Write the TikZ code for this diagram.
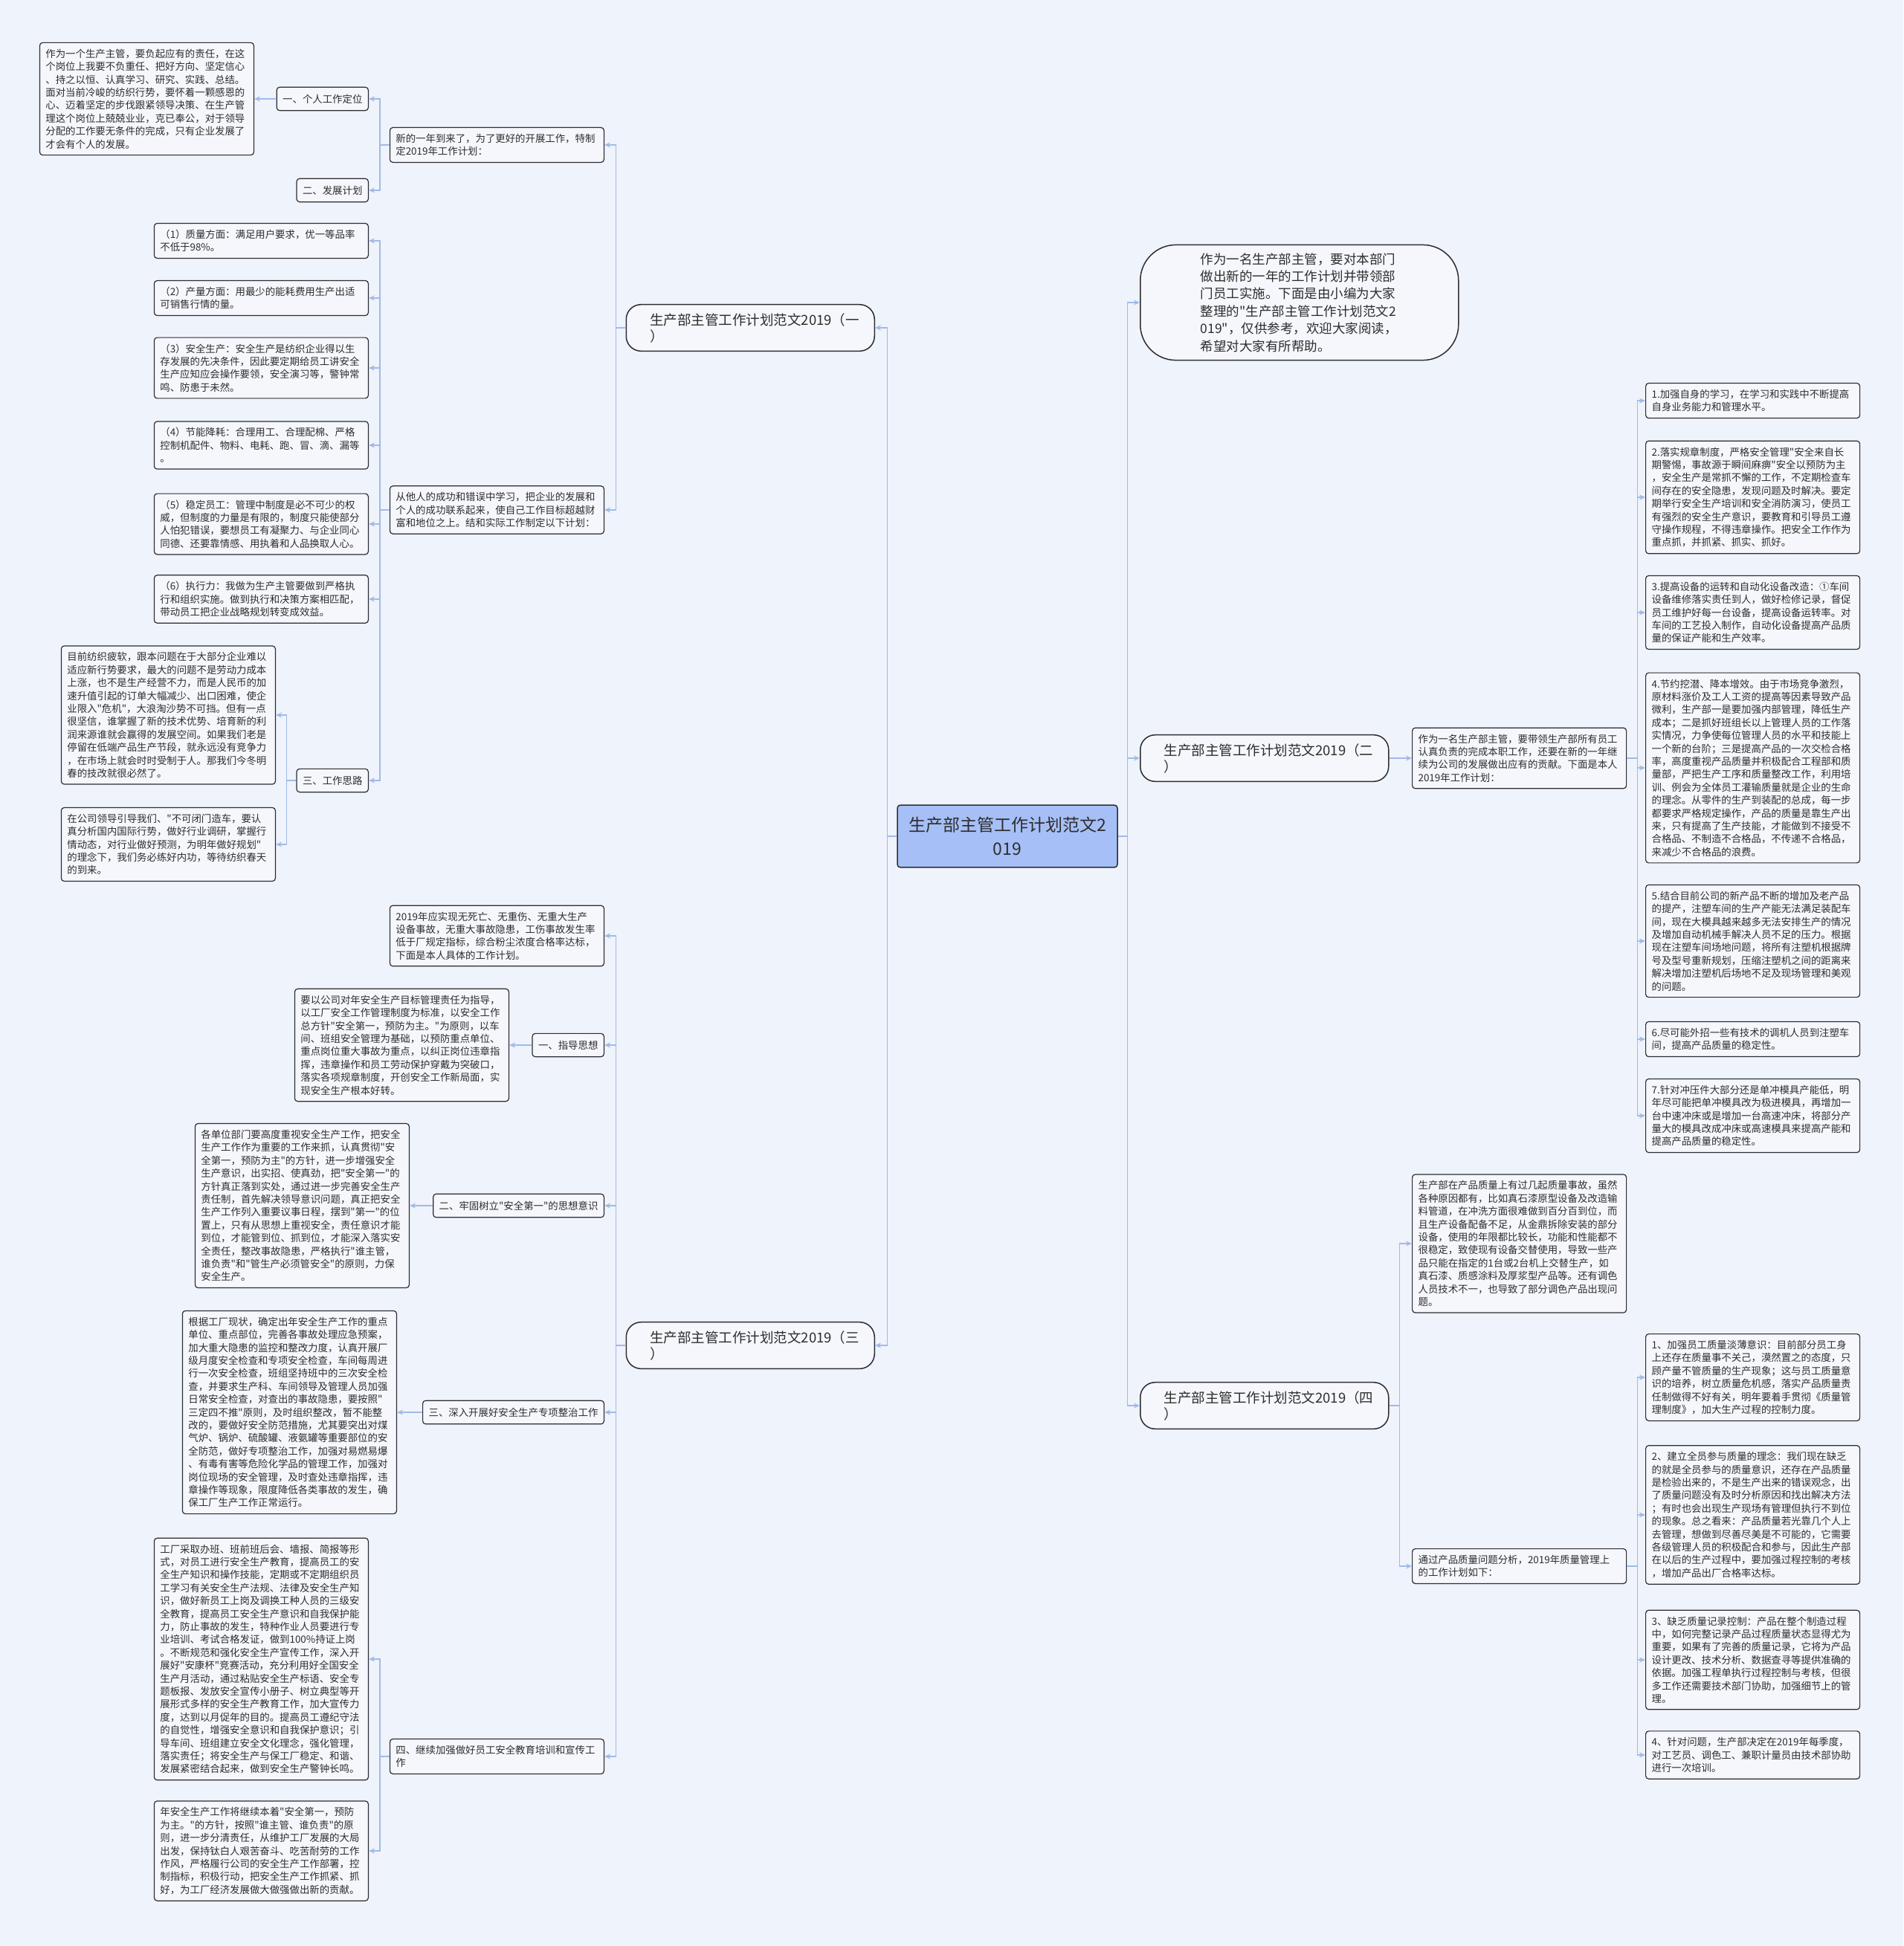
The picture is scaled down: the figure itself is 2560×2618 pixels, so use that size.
\documentclass[tikz,border=0pt]{standalone}
\usepackage{fontspec}
\newfontfamily\cjk{Noto Sans CJK SC}
\usetikzlibrary{arrows.meta}

\definecolor{bgblue}{RGB}{239,243,251}
\definecolor{boxfill}{RGB}{245,247,252}
\definecolor{boxline}{RGB}{45,45,50}
\definecolor{rootblue}{RGB}{166,191,246}
\definecolor{linkblue}{RGB}{160,186,232}
\definecolor{txtgray}{RGB}{45,45,45}

\tikzset{
  para/.style={draw=boxline, fill=boxfill, rounded corners=4pt, line width=1.2pt,
    text=txtgray, text width=272pt, align=left, inner xsep=8pt, inner ysep=8.5pt,
    font=\cjk\fontsize{13.4}{17.4}\selectfont},
  tag/.style={draw=boxline, fill=boxfill, rounded corners=4pt, line width=1.2pt,
    text=txtgray, inner xsep=8pt, inner ysep=9.5pt,
    font=\cjk\fontsize{13.4}{17.4}\selectfont},
  sect/.style={draw=boxline, fill=boxfill, rounded corners=20pt, line width=1.5pt,
    text=txtgray, text width=270pt, align=left, inner xsep=32pt, inner ysep=11.5pt,
    font=\cjk\fontsize{18.5}{22}\selectfont},
  intro/.style={draw=boxline, fill=boxfill, rounded corners=48pt, line width=1.5pt,
    text=txtgray, text width=266pt, align=left, inner xsep=81pt, inner ysep=11pt,
    font=\cjk\fontsize{17.5}{23.4}\selectfont},
  root/.style={draw=boxline, fill=rootblue, rounded corners=4pt, line width=1.5pt,
    text=txtgray, text width=268pt, align=center, inner xsep=14pt, inner ysep=16pt,
    font=\cjk\fontsize{23}{32}\selectfont},
  link/.style={draw=linkblue, line width=1.4pt, -{Stealth[length=8pt,width=7pt]}}
}

\begin{document}
\begin{tikzpicture}[x=1pt,y=-1pt]
  \fill[bgblue] (0,0) rectangle (2560,2618);
  \useasboundingbox (0,0) rectangle (2560,2618);

  % centre and the four plans
  \node[root] (root) at (1355,1125) {生产部主管工作计划范文2\\019};
  \node[sect, anchor=east] (s1) at (1177,441) {生产部主管工作计划范文2019（一\\）};
  \node[sect, anchor=east] (s3) at (1177,1810) {生产部主管工作计划范文2019（三\\）};
  \node[intro, anchor=west] (intro) at (1533,407) {作为一名生产部主管，要对本部门\\
    做出新的一年的工作计划并带领部\\
    门员工实施。下面是由小编为大家\\
    整理的"生产部主管工作计划范文2\\
    019"，仅供参考，欢迎大家阅读，\\
    希望对大家有所帮助。};
  \node[sect, anchor=west] (s2) at (1533,1020) {生产部主管工作计划范文2019（二\\）};
  \node[sect, anchor=west] (s4) at (1533,1891) {生产部主管工作计划范文2019（四\\）};

  % plan one
  \node[para, anchor=east] (xinnian) at (813,195) {新的一年到来了，为了更好的开展工作，特制\\
    定2019年工作计划：};
  \node[para, anchor=east] (congta) at (813,686) {从他人的成功和错误中学习，把企业的发展和\\
    个人的成功联系起来，使自己工作目标超越财\\
    富和地位之上。结和实际工作制定以下计划：};
  \node[tag, anchor=east] (dingwei) at (496,133) {一、个人工作定位};
  \node[tag, anchor=east] (fazhan) at (496,256) {二、发展计划};
  \node[para, anchor=east] (geren) at (342,133) {作为一个生产主管，要负起应有的责任，在这\\
    个岗位上我要不负重任、把好方向、坚定信心\\
    、持之以恒、认真学习、研究、实践、总结。\\
    面对当前冷峻的纺织行势，要怀着一颗感恩的\\
    心、迈着坚定的步伐跟紧领导决策、在生产管\\
    理这个岗位上兢兢业业，克已奉公，对于领导\\
    分配的工作要无条件的完成，只有企业发展了\\
    才会有个人的发展。};
  \node[para, anchor=east] (q1) at (496,324) {（1）质量方面：满足用户要求，优一等品率\\
    不低于98\%。};
  \node[para, anchor=east] (q2) at (496,401) {（2）产量方面：用最少的能耗费用生产出适\\
    可销售行情的量。};
  \node[para, anchor=east] (q3) at (496,495) {（3）安全生产：安全生产是纺织企业得以生\\
    存发展的先决条件，因此要定期给员工讲安全\\
    生产应知应会操作要领，安全演习等，警钟常\\
    鸣、防患于未然。};
  \node[para, anchor=east] (q4) at (496,599) {（4）节能降耗：合理用工、合理配棉、严格\\
    控制机配件、物料、电耗、跑、冒、滴、漏等\\
    。};
  \node[para, anchor=east] (q5) at (496,705) {（5）稳定员工：管理中制度是必不可少的权\\
    威，但制度的力量是有限的，制度只能使部分\\
    人怕犯错误，要想员工有凝聚力、与企业同心\\
    同德、还要靠情感、用执着和人品换取人心。};
  \node[para, anchor=east] (q6) at (496,806) {（6）执行力：我做为生产主管要做到严格执\\
    行和组织实施。做到执行和决策方案相匹配，\\
    带动员工把企业战略规划转变成效益。};
  \node[tag, anchor=east] (silu) at (496,1050) {三、工作思路};
  \node[para, anchor=east] (muqian) at (371,962) {目前纺织疲软，跟本问题在于大部分企业难以\\
    适应新行势要求，最大的问题不是劳动力成本\\
    上涨，也不是生产经营不力，而是人民币的加\\
    速升值引起的订单大幅减少、出口困难，使企\\
    业限入"危机"，大浪淘沙势不可挡。但有一点\\
    很坚信，谁掌握了新的技术优势、培育新的利\\
    润来源谁就会赢得的发展空间。如果我们老是\\
    停留在低端产品生产节段，就永远没有竞争力\\
    ，在市场上就会时时受制于人。那我们今冬明\\
    春的技改就很必然了。};
  \node[para, anchor=east] (lingdao) at (371,1136) {在公司领导引导我们、"不可闭门造车，要认\\
    真分析国内国际行势，做好行业调研，掌握行\\
    情动态，对行业做好预测，为明年做好规划"\\
    的理念下，我们务必练好内功，等待纺织春天\\
    的到来。};

  % plan three
  \node[para, anchor=east] (mubiao) at (813,1259) {2019年应实现无死亡、无重伤、无重大生产\\
    设备事故，无重大事故隐患，工伤事故发生率\\
    低于厂规定指标，综合粉尘浓度合格率达标，\\
    下面是本人具体的工作计划。};
  \node[tag, anchor=east] (zhidao) at (813,1406) {一、指导思想};
  \node[para, anchor=east] (zhidaotxt) at (685,1406) {要以公司对年安全生产目标管理责任为指导，\\
    以工厂安全工作管理制度为标准，以安全工作\\
    总方针"安全第一，预防为主。"为原则，以车\\
    间、班组安全管理为基础，以预防重点单位、\\
    重点岗位重大事故为重点，以纠正岗位违章指\\
    挥，违章操作和员工劳动保护穿戴为突破口，\\
    落实各项规章制度，开创安全工作新局面，实\\
    现安全生产根本好转。};
  \node[tag, anchor=east] (laogu) at (813,1622) {二、牢固树立"安全第一"的思想意识};
  \node[para, anchor=east] (laogutxt) at (551,1622) {各单位部门要高度重视安全生产工作，把安全\\
    生产工作作为重要的工作来抓，认真贯彻"安\\
    全第一，预防为主"的方针，进一步增强安全\\
    生产意识，出实招、使真劲，把"安全第一"的\\
    方针真正落到实处，通过进一步完善安全生产\\
    责任制，首先解决领导意识问题，真正把安全\\
    生产工作列入重要议事日程，摆到"第一"的位\\
    置上，只有从思想上重视安全，责任意识才能\\
    到位，才能管到位、抓到位，才能深入落实安\\
    全责任，整改事故隐患，严格执行"谁主管，\\
    谁负责"和"管生产必须管安全"的原则，力保\\
    安全生产。};
  \node[tag, anchor=east] (zhengzhi) at (813,1900) {三、深入开展好安全生产专项整治工作};
  \node[para, anchor=east] (zhengzhitxt) at (534,1900) {根据工厂现状，确定出年安全生产工作的重点\\
    单位、重点部位，完善各事故处理应急预案，\\
    加大重大隐患的监控和整改力度，认真开展厂\\
    级月度安全检查和专项安全检查，车间每周进\\
    行一次安全检查，班组坚持班中的三次安全检\\
    查，并要求生产科、车间领导及管理人员加强\\
    日常安全检查，对查出的事故隐患，要按照"\\
    三定四不推"原则，及时组织整改，暂不能整\\
    改的，要做好安全防范措施，尤其要突出对煤\\
    气炉、锅炉、硫酸罐、液氨罐等重要部位的安\\
    全防范，做好专项整治工作，加强对易燃易爆\\
    、有毒有害等危险化学品的管理工作，加强对\\
    岗位现场的安全管理，及时查处违章指挥，违\\
    章操作等现象，限度降低各类事故的发生，确\\
    保工厂生产工作正常运行。};
  \node[para, anchor=east] (jiaoyu) at (813,2363) {四、继续加强做好员工安全教育培训和宣传工\\
    作};
  \node[para, anchor=east] (jiaoyua) at (496,2232) {工厂采取办班、班前班后会、墙报、简报等形\\
    式，对员工进行安全生产教育，提高员工的安\\
    全生产知识和操作技能，定期或不定期组织员\\
    工学习有关安全生产法规、法律及安全生产知\\
    识，做好新员工上岗及调换工种人员的三级安\\
    全教育，提高员工安全生产意识和自我保护能\\
    力，防止事故的发生，特种作业人员要进行专\\
    业培训、考试合格发证，做到100\%持证上岗\\
    。不断规范和强化安全生产宣传工作，深入开\\
    展好"安康杯"竞赛活动，充分利用好全国安全\\
    生产月活动，通过粘贴安全生产标语、安全专\\
    题板报、发放安全宣传小册子、树立典型等开\\
    展形式多样的安全生产教育工作，加大宣传力\\
    度，达到以月促年的目的。提高员工遵纪守法\\
    的自觉性，增强安全意识和自我保护意识；引\\
    导车间、班组建立安全文化理念，强化管理，\\
    落实责任；将安全生产与保工厂稳定、和谐、\\
    发展紧密结合起来，做到安全生产警钟长鸣。};
  \node[para, anchor=east] (jiaoyub) at (496,2490) {年安全生产工作将继续本着"安全第一，预防\\
    为主。"的方针，按照"谁主管、谁负责"的原\\
    则，进一步分清责任，从维护工厂发展的大局\\
    出发，保持钛白人艰苦奋斗、吃苦耐劳的工作\\
    作风，严格履行公司的安全生产工作部署，控\\
    制指标，积极行动，把安全生产工作抓紧、抓\\
    好，为工厂经济发展做大做强做出新的贡献。};

  % plan two
  \node[para, anchor=west] (benren) at (1899,1020) {作为一名生产部主管，要带领生产部所有员工\\
    认真负责的完成本职工作，还要在新的一年继\\
    续为公司的发展做出应有的贡献。下面是本人\\
    2019年工作计划：};
  \node[para, anchor=west] (r1) at (2213,539) {1.加强自身的学习，在学习和实践中不断提高\\
    自身业务能力和管理水平。};
  \node[para, anchor=west] (r2) at (2213,669) {2.落实规章制度，严格安全管理"安全来自长\\
    期警惕，事故源于瞬间麻痹"安全以预防为主\\
    ，安全生产是常抓不懈的工作，不定期检查车\\
    间存在的安全隐患，发现问题及时解决。要定\\
    期举行安全生产培训和安全消防演习，使员工\\
    有强烈的安全生产意识，要教育和引导员工遵\\
    守操作规程，不得违章操作。把安全工作作为\\
    重点抓，并抓紧、抓实、抓好。};
  \node[para, anchor=west] (r3) at (2213,824) {3.提高设备的运转和自动化设备改造：①车间\\
    设备维修落实责任到人，做好检修记录，督促\\
    员工维护好每一台设备，提高设备运转率。对\\
    车间的工艺投入制作，自动化设备提高产品质\\
    量的保证产能和生产效率。};
  \node[para, anchor=west] (r4) at (2213,1033) {4.节约挖潜、降本增效。由于市场竞争激烈，\\
    原材料涨价及工人工资的提高等因素导致产品\\
    微利，生产部一是要加强内部管理，降低生产\\
    成本；二是抓好班组长以上管理人员的工作落\\
    实情况，力争使每位管理人员的水平和技能上\\
    一个新的台阶；三是提高产品的一次交检合格\\
    率，高度重视产品质量并积极配合工程部和质\\
    量部，严把生产工序和质量整改工作，利用培\\
    训、例会为全体员工灌输质量就是企业的生命\\
    的理念。从零件的生产到装配的总成，每一步\\
    都要求严格规定操作，产品的质量是靠生产出\\
    来，只有提高了生产技能，才能做到不接受不\\
    合格品、不制造不合格品，不传递不合格品，\\
    来减少不合格品的浪费。};
  \node[para, anchor=west] (r5) at (2213,1266) {5.结合目前公司的新产品不断的增加及老产品\\
    的提产，注塑车间的生产产能无法满足装配车\\
    间，现在大模具越来越多无法安排生产的情况\\
    及增加自动机械手解决人员不足的压力。根据\\
    现在注塑车间场地问题，将所有注塑机根据牌\\
    号及型号重新规划，压缩注塑机之间的距离来\\
    解决增加注塑机后场地不足及现场管理和美观\\
    的问题。};
  \node[para, anchor=west] (r6) at (2213,1398) {6.尽可能外招一些有技术的调机人员到注塑车\\
    间，提高产品质量的稳定性。};
  \node[para, anchor=west] (r7) at (2213,1501) {7.针对冲压件大部分还是单冲模具产能低，明\\
    年尽可能把单冲模具改为极进模具，再增加一\\
    台中速冲床或是增加一台高速冲床，将部分产\\
    量大的模具改成冲床或高速模具来提高产能和\\
    提高产品质量的稳定性。};

  % plan four
  \node[para, anchor=west] (shigu) at (1899,1673) {生产部在产品质量上有过几起质量事故，虽然\\
    各种原因都有，比如真石漆原型设备及改造输\\
    料管道，在冲洗方面很难做到百分百到位，而\\
    且生产设备配备不足，从金鼎拆除安装的部分\\
    设备，使用的年限都比较长，功能和性能都不\\
    很稳定，致使现有设备交替使用，导致一些产\\
    品只能在指定的1台或2台机上交替生产，如\\
    真石漆、质感涂料及厚浆型产品等。还有调色\\
    人员技术不一，也导致了部分调色产品出现问\\
    题。};
  \node[para, anchor=west] (fenxi) at (1899,2107) {通过产品质量问题分析，2019年质量管理上\\
    的工作计划如下：};
  \node[para, anchor=west] (z1) at (2213,1853) {1、加强员工质量淡薄意识：目前部分员工身\\
    上还存在质量事不关己，漠然置之的态度，只\\
    顾产量不管质量的生产现象；这与员工质量意\\
    识的培养，树立质量危机感，落实产品质量责\\
    任制做得不好有关，明年要着手贯彻《质量管\\
    理制度》，加大生产过程的控制力度。};
  \node[para, anchor=west] (z2) at (2213,2038) {2、建立全员参与质量的理念：我们现在缺乏\\
    的就是全员参与的质量意识，还存在产品质量\\
    是检验出来的，不是生产出来的错误观念，出\\
    了质量问题没有及时分析原因和找出解决方法\\
    ；有时也会出现生产现场有管理但执行不到位\\
    的现象。总之看来：产品质量若光靠几个人上\\
    去管理，想做到尽善尽美是不可能的，它需要\\
    各级管理人员的积极配合和参与，因此生产部\\
    在以后的生产过程中，要加强过程控制的考核\\
    ，增加产品出厂合格率达标。};
  \node[para, anchor=west] (z3) at (2213,2233) {3、缺乏质量记录控制：产品在整个制造过程\\
    中，如何完整记录产品过程质量状态显得尤为\\
    重要，如果有了完善的质量记录，它将为产品\\
    设计更改、技术分析、数据查寻等提供准确的\\
    依据。加强工程单执行过程控制与考核，但很\\
    多工作还需要技术部门协助，加强细节上的管\\
    理。};
  \node[para, anchor=west] (z4) at (2213,2361) {4、针对问题，生产部决定在2019年每季度，\\
    对工艺员、调色工、兼职计量员由技术部协助\\
    进行一次培训。};

  % connectors, left side
  \foreach \c in {s1,s3}
    \draw[link] (root.west) -- ++(-13,0) |- (\c.east);
  \foreach \c in {xinnian,congta}
    \draw[link] (s1.west) -- ++(-13,0) |- (\c.east);
  \foreach \c in {dingwei,fazhan}
    \draw[link] (xinnian.west) -- ++(-13,0) |- (\c.east);
  \draw[link] (dingwei.west) -- (geren.east);
  \foreach \c in {q1,q2,q3,q4,q5,q6,silu}
    \draw[link] (congta.west) -- ++(-13,0) |- (\c.east);
  \foreach \c in {muqian,lingdao}
    \draw[link] (silu.west) -- ++(-13,0) |- (\c.east);
  \foreach \c in {mubiao,zhidao,laogu,zhengzhi,jiaoyu}
    \draw[link] (s3.west) -- ++(-13,0) |- (\c.east);
  \draw[link] (zhidao.west) -- (zhidaotxt.east);
  \draw[link] (laogu.west) -- (laogutxt.east);
  \draw[link] (zhengzhi.west) -- (zhengzhitxt.east);
  \foreach \c in {jiaoyua,jiaoyub}
    \draw[link] (jiaoyu.west) -- ++(-13,0) |- (\c.east);

  % connectors, right side
  \foreach \c in {intro,s2,s4}
    \draw[link] (root.east) -- ++(13,0) |- (\c.west);
  \draw[link] (s2.east) -- (benren.west);
  \foreach \c in {r1,r2,r3,r4,r5,r6,r7}
    \draw[link] (benren.east) -- ++(14,0) |- (\c.west);
  \foreach \c in {shigu,fenxi}
    \draw[link] (s4.east) -- ++(14,0) |- (\c.west);
  \foreach \c in {z1,z2,z3,z4}
    \draw[link] (fenxi.east) -- ++(14,0) |- (\c.west);
\end{tikzpicture}
\end{document}
